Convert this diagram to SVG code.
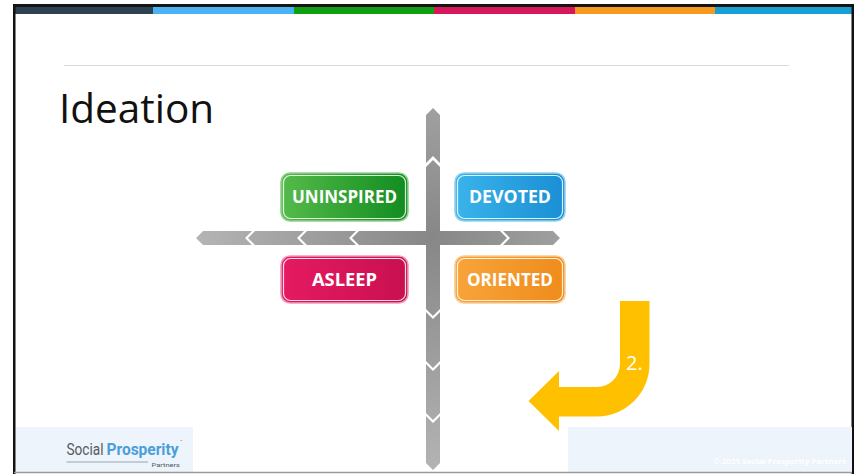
<svg xmlns="http://www.w3.org/2000/svg" width="854" height="474" viewBox="0 0 854 474">
  <defs>
    <style>
      .lbl { font-family: "Open Sans", "DejaVu Sans", sans-serif; font-weight: 700; font-size: 17px; fill: #ffffff; text-anchor: middle; }
      .bar { fill: url(#gbar); }
      .outer { stroke-width: 1.6; }
      .inner { fill: none; stroke: #ffffff; stroke-opacity: 0.85; stroke-width: 1.2; }
    </style>
    <radialGradient id="gbar" gradientUnits="userSpaceOnUse" cx="433" cy="238" r="240">
      <stop offset="0" stop-color="#878787"/>
      <stop offset="1" stop-color="#b5b5b5"/>
    </radialGradient>
    <linearGradient id="ggreen" x1="0" y1="0" x2="1" y2="0">
      <stop offset="0" stop-color="#55bb4a"/>
      <stop offset="1" stop-color="#118c20"/>
    </linearGradient>
    <linearGradient id="gblue" x1="0" y1="0" x2="1" y2="0">
      <stop offset="0" stop-color="#3ab4ea"/>
      <stop offset="1" stop-color="#1a8ed4"/>
    </linearGradient>
    <linearGradient id="gpink" x1="0" y1="0" x2="1" y2="0">
      <stop offset="0" stop-color="#e61a62"/>
      <stop offset="1" stop-color="#c8104f"/>
    </linearGradient>
    <linearGradient id="gorange" x1="0" y1="0" x2="1" y2="0">
      <stop offset="0" stop-color="#f7a43a"/>
      <stop offset="1" stop-color="#ef8c1c"/>
    </linearGradient>
  </defs>

  <rect x="0" y="0" width="854" height="474" fill="#ffffff"/>

  <!-- slide frame -->
  <g id="frame">
    <rect x="14" y="4" width="840" height="3" fill="#151515"/>
    <rect x="15" y="7" width="138" height="7" fill="#2f4050"/>
    <rect x="153" y="7" width="141" height="7" fill="#4ab3f4"/>
    <rect x="294" y="7" width="140" height="7" fill="#0f9f10"/>
    <rect x="434" y="7" width="141" height="7" fill="#d7175c"/>
    <rect x="575" y="7" width="140" height="7" fill="#f7991f"/>
    <rect x="715" y="7" width="137" height="7" fill="#16a0d4"/>
    <rect x="13" y="4" width="2.5" height="470" fill="#111111"/>
    <rect x="851.5" y="4" width="2.5" height="470" fill="#111111"/>
    <line x1="64" y1="65.5" x2="789" y2="65.5" stroke="#d9d9d9" stroke-width="1.2"/>
  </g>

  <g id="title">
    <text x="59" y="123" font-family="'Open Sans', 'DejaVu Sans', sans-serif" font-size="40.5" fill="#111111">Ideation</text>
  </g>

  <!-- axes / connectors -->
  <g id="axes" class="bar">
    <!-- horizontal -->
    <polygon points="196,238 203,231 252,231 245,238 252,245 203,245"/>
    <polygon points="248,238 255,231 304,231 297,238 304,245 255,245"/>
    <polygon points="300,238 307,231 356,231 349,238 356,245 307,245"/>
    <polygon points="352,238 359,231 500,231 507,238 500,245 359,245"/>
    <polygon points="503,231 553,231 560,238 553,245 503,245 510,238"/>
    <!-- vertical -->
    <polygon points="433,108 440,115 440,163 433,156 426,163 426,115"/>
    <polygon points="433,160 440,167 440,309 433,316 426,309 426,167"/>
    <polygon points="426,312 433,319 440,312 440,361 433,368 426,361"/>
    <polygon points="426,364 433,371 440,364 440,413 433,420 426,413"/>
    <polygon points="426,416 433,423 440,416 440,463 433,470 426,463"/>
  </g>

  <g id="uninspired">
    <rect class="outer" x="281" y="173" width="127" height="48" rx="9" fill="url(#ggreen)" stroke="#8fd28a"/>
    <rect class="inner" x="283.5" y="175.5" width="122" height="43" rx="7"/>
    <text class="lbl" x="344.5" y="203" textLength="105" lengthAdjust="spacingAndGlyphs">UNINSPIRED</text>
  </g>

  <g id="devoted">
    <rect class="outer" x="455" y="173" width="110" height="48" rx="9" fill="url(#gblue)" stroke="#8fd3f2"/>
    <rect class="inner" x="457.5" y="175.5" width="105" height="43" rx="7"/>
    <text class="lbl" x="510" y="203" textLength="82" lengthAdjust="spacingAndGlyphs">DEVOTED</text>
  </g>

  <g id="asleep">
    <rect class="outer" x="281" y="256" width="127" height="47" rx="9" fill="url(#gpink)" stroke="#f29ab9"/>
    <rect class="inner" x="283.5" y="258.5" width="122" height="42" rx="7"/>
    <text class="lbl" x="344.5" y="285.5" textLength="65" lengthAdjust="spacingAndGlyphs">ASLEEP</text>
  </g>

  <g id="oriented">
    <rect class="outer" x="455" y="256" width="110" height="47" rx="9" fill="url(#gorange)" stroke="#f9cc90"/>
    <rect class="inner" x="457.5" y="258.5" width="105" height="42" rx="7"/>
    <text class="lbl" x="510" y="285.5" textLength="86" lengthAdjust="spacingAndGlyphs">ORIENTED</text>
  </g>

  <g id="arrow2">
    <path d="M620 301 L649.5 301 L649.5 364 A52.5 52.5 0 0 1 597 416.5 L559 416.5 L559 431 L528.5 401 L559 371 L559 387 L597 387 A23 23 0 0 0 620 364 Z" fill="#ffc000"/>
    <text x="626" y="370" font-family="'Open Sans', 'DejaVu Sans', sans-serif" font-size="20" fill="#ffffff">2.</text>
  </g>

  <g id="logo">
    <rect x="16" y="427" width="177" height="45" fill="#edf4fc"/>
    <text x="66.5" y="455" font-family="Roboto, 'Open Sans', sans-serif" font-size="16" fill="#555a60" textLength="37" lengthAdjust="spacingAndGlyphs">Social</text>
    <text x="106.5" y="455" font-family="Roboto, 'Open Sans', sans-serif" font-weight="700" font-size="16" fill="#4a9fd8" textLength="72" lengthAdjust="spacingAndGlyphs">Prosperity</text>
    <text x="180" y="443" font-family="Roboto, sans-serif" font-size="4" fill="#777777">™</text>
    <line x1="66.5" y1="462" x2="148" y2="462" stroke="#9aa3ad" stroke-width="1.2"/>
    <text x="151.5" y="466.5" font-family="Roboto, sans-serif" font-size="6" fill="#555a60" textLength="28.5" lengthAdjust="spacingAndGlyphs">Partners</text>
  </g>

  <g id="footer">
    <rect x="568" y="427" width="284" height="45" fill="#edf4fc"/>
    <text x="713" y="464" font-family="'Open Sans', sans-serif" font-weight="700" font-size="7.5" fill="#ffffff" textLength="133" lengthAdjust="spacingAndGlyphs">© 2021 Social Prosperity Partners</text>
    <line x1="14" y1="472.5" x2="852" y2="472.5" stroke="#9a9a9a" stroke-width="1.5"/>
  </g>
</svg>
